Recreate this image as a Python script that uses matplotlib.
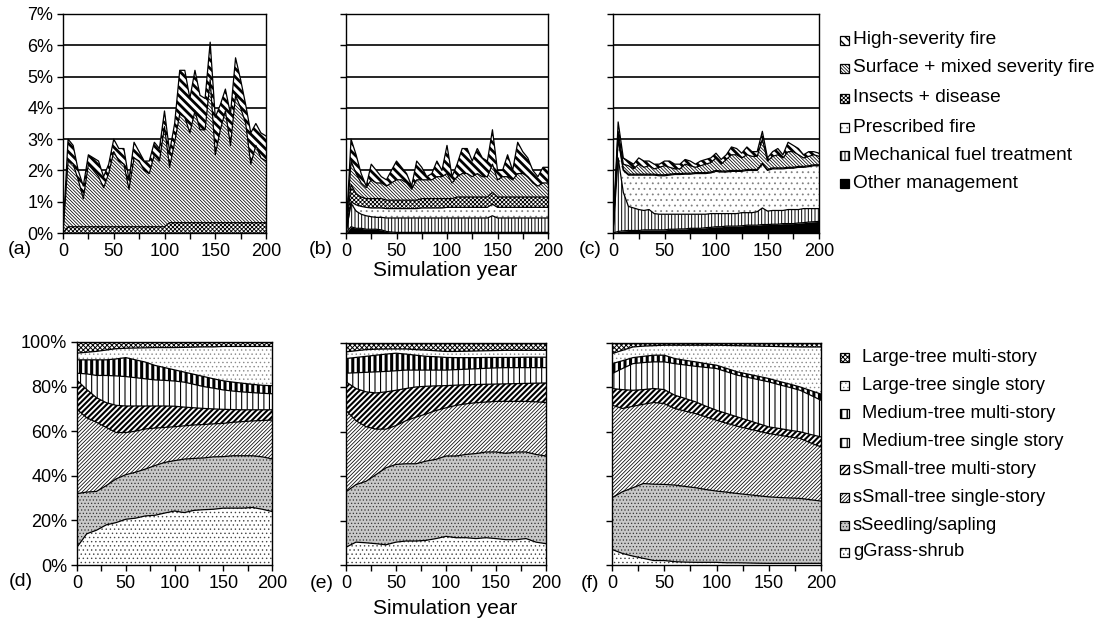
import numpy as np
import matplotlib
matplotlib.use("Agg")
import matplotlib.pyplot as plt
from matplotlib.patches import Rectangle

plt.rcParams['font.family'] = ['Liberation Sans', 'DejaVu Sans']

# ---------------- data ----------------
years5 = list(range(0, 201, 5))
years10 = list(range(0, 201, 10))
xtick_pos = list(range(0, 201, 25))
xtick_labels = ['0', '', '50', '', '100', '', '150', '', '200']
pct_ticks_top = [0, 1, 2, 3, 4, 5, 6, 7]
pct_ticks_bot = [0, 20, 40, 60, 80, 100]

dist_names = ['Other management', 'Mechanical fuel treatment', 'Prescribed fire',
              'Insects + disease', 'Surface + mixed severity fire', 'High-severity fire']
struct_names = ['gGrass-shrub', 'sSeedling/sapling', 'sSmall-tree single-story',
                'sSmall-tree multi-story', 'Medium-tree single story',
                'Medium-tree multi-story', 'Large-tree single story', 'Large-tree multi-story']

# Panel (a): cumulative tops (% per year)
a_other_top = [0] * 41
a_mech_top = [0] * 41
a_presc_top = [0] * 41
a_insects_top = [0, 0.2, 0.2, 0.2, 0.2, 0.2, 0.2, 0.2, 0.2, 0.2, 0.2, 0.2, 0.2, 0.2, 0.2, 0.2, 0.2, 0.2,
                 0.2, 0.2, 0.2, 0.33, 0.33, 0.33, 0.33, 0.33, 0.33, 0.33, 0.33, 0.33, 0.33, 0.33, 0.33,
                 0.33, 0.33, 0.33, 0.33, 0.33, 0.33, 0.33, 0.33]
a_surface_top = [0, 2.3, 2.2, 1.7, 1.1, 2.2, 2.0, 1.8, 1.45, 1.9, 2.6, 2.3, 2.2, 1.4, 2.4, 2.3, 2.0, 1.9,
                 2.5, 2.3, 3.4, 2.1, 2.9, 3.8, 3.7, 3.2, 3.9, 3.3, 3.3, 4.9, 2.5, 3.3, 3.9, 2.8, 4.4,
                 4.0, 3.5, 2.2, 2.8, 2.4, 2.3]
a_high_top = [0, 3.0, 2.8, 2.0, 1.5, 2.5, 2.4, 2.3, 1.8, 2.2, 3.0, 2.7, 2.7, 1.7, 2.9, 2.6, 2.3, 2.3,
              2.9, 2.7, 3.9, 2.6, 3.5, 5.2, 5.2, 4.3, 5.2, 4.4, 4.3, 6.1, 3.7, 4.1, 4.6, 3.8, 5.6,
              4.9, 4.1, 3.2, 3.5, 3.2, 3.1]

# Panel (b)
b_other_top = [0, 0.2, 0.15, 0.15, 0.12, 0.12, 0.12, 0.1, 0.05, 0.03] + [0.02] * 31
b_mech_top = [0, 0.95, 0.7, 0.6, 0.55, 0.52, 0.5, 0.5, 0.48, 0.48, 0.48, 0.48, 0.48, 0.48, 0.48, 0.48,
              0.48, 0.48, 0.48, 0.48, 0.48, 0.48, 0.48, 0.48, 0.48, 0.48, 0.48, 0.48, 0.48, 0.55, 0.48,
              0.48, 0.48, 0.48, 0.48, 0.48, 0.48, 0.48, 0.48, 0.48, 0.48]
b_presc_top = [0, 1.0, 0.9, 0.85, 0.82, 0.8, 0.8, 0.8, 0.78, 0.78, 0.78, 0.78, 0.78, 0.78, 0.78, 0.8,
               0.8, 0.8, 0.8, 0.8, 0.82, 0.82, 0.82, 0.82, 0.82, 0.82, 0.82, 0.82, 0.82, 0.92, 0.82,
               0.82, 0.82, 0.82, 0.82, 0.82, 0.82, 0.82, 0.82, 0.82, 0.82]
b_insects_top = [0, 1.55, 1.25, 1.15, 1.1, 1.1, 1.1, 1.1, 1.05, 1.05, 1.05, 1.05, 1.05, 1.05, 1.05,
                 1.1, 1.1, 1.1, 1.1, 1.1, 1.1, 1.1, 1.15, 1.15, 1.15, 1.15, 1.15, 1.15, 1.15, 1.3,
                 1.15, 1.15, 1.15, 1.15, 1.15, 1.15, 1.15, 1.15, 1.15, 1.15, 1.15]
b_surface_top = [0, 2.3, 1.9, 1.6, 1.45, 1.7, 1.6, 1.6, 1.5, 1.6, 1.7, 1.7, 1.6, 1.4, 1.7, 1.7, 1.7,
                 1.7, 1.8, 1.8, 1.9, 1.6, 1.8, 1.9, 1.9, 1.8, 1.9, 1.8, 1.8, 2.2, 1.7, 1.8, 1.8, 1.7,
                 1.9, 1.9, 1.8, 1.6, 1.5, 1.6, 1.6]
b_high_top = [0, 3.0, 2.5, 1.9, 1.5, 2.2, 2.0, 1.8, 1.7, 2.0, 2.3, 2.1, 1.9, 1.5, 2.3, 2.1, 1.8, 1.9,
              2.3, 2.0, 2.8, 1.8, 2.2, 2.7, 2.7, 2.3, 2.7, 2.4, 2.3, 3.3, 2.0, 2.0, 2.5, 2.0, 2.9,
              2.6, 2.4, 2.0, 1.8, 2.1, 2.1]

# Panel (c)
c_other_top = [0, 0.05, 0.07, 0.08, 0.08, 0.08, 0.1, 0.1, 0.1, 0.1, 0.1, 0.12, 0.12, 0.13, 0.13,
               0.15, 0.15, 0.15, 0.17, 0.18, 0.2, 0.2, 0.22, 0.22, 0.22, 0.23, 0.25, 0.25, 0.25,
               0.27, 0.27, 0.28, 0.28, 0.3, 0.3, 0.3, 0.32, 0.33, 0.35, 0.36, 0.37]
c_mech_top = [0, 2.4, 1.3, 0.85, 0.8, 0.75, 0.72, 0.75, 0.62, 0.6, 0.6, 0.6, 0.6, 0.6, 0.6, 0.6, 0.6,
              0.6, 0.6, 0.62, 0.62, 0.62, 0.62, 0.62, 0.62, 0.65, 0.65, 0.65, 0.68, 0.8, 0.7, 0.72,
              0.72, 0.72, 0.75, 0.75, 0.75, 0.78, 0.78, 0.78, 0.78]
c_presc_top = [0, 3.0, 2.0, 1.85, 1.85, 1.85, 1.85, 1.85, 1.85, 1.83, 1.83, 1.85, 1.87, 1.87, 1.88,
               1.88, 1.9, 1.9, 1.9, 1.92, 1.97, 1.95, 1.95, 1.97, 1.97, 1.97, 2.0, 2.0, 2.0, 2.2,
               2.0, 2.05, 2.05, 2.05, 2.07, 2.07, 2.1, 2.1, 2.12, 2.15, 2.15]
c_insects_top = [0, 3.05, 2.03, 1.88, 1.88, 1.88, 1.88, 1.88, 1.88, 1.86, 1.86, 1.88, 1.9, 1.9, 1.91,
                 1.91, 1.93, 1.93, 1.93, 1.95, 2.0, 1.98, 1.98, 2.0, 2.0, 2.0, 2.03, 2.03, 2.03,
                 2.23, 2.03, 2.08, 2.08, 2.08, 2.1, 2.1, 2.13, 2.13, 2.15, 2.18, 2.18]
c_surface_top = [0, 3.25, 2.2, 2.15, 2.05, 2.2, 2.1, 2.15, 2.05, 2.1, 2.15, 2.1, 2.05, 2.05, 2.2, 2.15,
                 2.1, 2.15, 2.2, 2.25, 2.4, 2.2, 2.35, 2.5, 2.5, 2.4, 2.5, 2.45, 2.45, 3.0, 2.3,
                 2.45, 2.5, 2.4, 2.6, 2.6, 2.5, 2.4, 2.45, 2.5, 2.45]
c_high_top = [0, 3.55, 2.4, 2.3, 2.2, 2.4, 2.3, 2.3, 2.2, 2.2, 2.3, 2.3, 2.2, 2.2, 2.35, 2.3, 2.2, 2.3,
              2.35, 2.4, 2.55, 2.35, 2.5, 2.75, 2.7, 2.55, 2.75, 2.6, 2.6, 3.25, 2.4, 2.6, 2.7, 2.5,
              2.9, 2.8, 2.7, 2.5, 2.6, 2.6, 2.55]

# Panel (d): cumulative tops (% of landscape)
d_grass_top = [8, 14, 15.6, 18, 19, 20.5, 21, 22, 22.3, 23.3, 24.2, 23.5, 24.5, 24.8, 25, 25.5, 25.5, 25.5, 25.8, 25, 24]
d_seed_top = [32, 32.7, 33, 35.6, 38.6, 40.5, 41.6, 43, 44.6, 46, 46.8, 47.5, 47.8, 48, 48.5, 48.6, 49, 49, 49, 48.5, 47.6]
d_small1_top = [69.8, 66, 64, 61.7, 59.4, 59.4, 60, 61, 61.4, 61.7, 62, 62.4, 62.8, 63, 63.3, 63.5, 64, 64.3, 64.6, 64.8, 65]
d_small2_top = [82.8, 78.7, 75, 72.8, 71.6, 71.3, 71.3, 71.3, 71.3, 71.3, 71.2, 70.8, 70.5, 70.2, 70, 69.8, 69.7, 69.6, 69.6, 69.6, 69.6]
d_med1_top = [86, 85.7, 85, 85, 84.8, 84.5, 84, 83.5, 83, 82.8, 82.5, 82, 81, 80, 79.3, 78.5, 78, 77.6, 77.3, 77, 76.8]
d_med2_top = [92, 92, 92, 92, 92.4, 93, 92, 91, 89.5, 88.5, 87.5, 86.5, 85.5, 84.5, 83.5, 82.6, 82, 81.5, 81, 80.6, 80.4]
d_large1_top = [95, 95.4, 95.8, 96.4, 97, 97.2, 97.3, 97.4, 97.5, 97.5, 97.5, 97.6, 97.7, 97.8, 97.8, 98, 98, 98, 98, 98, 98]

# Panel (e)
e_grass_top = [8, 10.3, 10, 9.6, 9.1, 10.3, 10.8, 10.8, 11.1, 11.9, 12.9, 12.3, 12.3, 11.9, 12.3, 11.9, 11.4, 11.4, 11.9, 10.3, 9.6]
e_seed_top = [33, 36.2, 37.7, 40.7, 43.8, 45.3, 45.6, 45.6, 46.8, 47.6, 49.1, 49.1, 49.8, 50.2, 50.9, 50.9, 50.3, 50.9, 50.9, 49.8, 49.1]
e_small1_top = [69.6, 65, 62.3, 61.2, 61.2, 62.8, 65, 66.6, 68, 69.6, 70.8, 71.9, 72.6, 73.1, 73.4, 73.7, 73.7, 73.7, 73.7, 73.5, 73.2]
e_small2_top = [82.5, 79.5, 78, 77.5, 78, 78.7, 79.5, 80.2, 80.5, 80.7, 80.8, 81, 81.2, 81.3, 81.4, 81.5, 81.6, 81.7, 81.8, 81.9, 82]
e_med1_top = [86.4, 86.6, 86.8, 87, 87.2, 87.5, 87.8, 87.8, 87.8, 87.8, 87.8, 88, 88.2, 88.4, 88.6, 88.8, 88.9, 88.9, 88.9, 88.9, 88.9]
e_med2_top = [93, 93.5, 94, 94.5, 95, 95.4, 95, 94.5, 94, 93.8, 93.5, 93.4, 93.4, 93.4, 93.5, 93.5, 93.5, 93.5, 93.6, 93.6, 93.6]
e_large1_top = [96, 96.5, 97, 97.2, 97.3, 97.3, 97.3, 97, 96.8, 96.5, 96.2, 96.2, 96.3, 96.4, 96.5, 96.6, 96.7, 96.7, 96.7, 96.7, 96.7]

# Panel (f)
f_grass_top = [7, 5.2, 4, 3, 2, 2, 1.5, 1.3, 1.2, 1.2, 1.2, 1, 1, 0.9, 0.8, 0.75, 0.75, 0.75, 0.75, 0.75, 0.75]
f_seed_top = [30.3, 33, 34.8, 36.7, 36.4, 36.3, 36, 35.4, 34.8, 34, 33.3, 32.8, 32.2, 31.7, 31.2, 30.7, 30.4, 30.2, 30, 29.4, 28.8]
f_small1_top = [72, 70.5, 71.5, 72.4, 73.2, 72.7, 70.5, 69.3, 68.2, 66.7, 65.2, 63.8, 62.5, 61.4, 60.3, 59.2, 58.5, 57.7, 57, 55, 53.2]
f_small2_top = [79.5, 79, 78.7, 79, 79.5, 79, 76.5, 75, 73.5, 71.5, 69.7, 68.2, 66.7, 65.2, 63.7, 62.2, 61.5, 60.7, 60, 58.8, 57.7]
f_med1_top = [86.2, 88.5, 90.7, 91.2, 91.5, 91.5, 90.7, 90.1, 89.5, 89, 88.5, 87, 85.5, 84.5, 83.5, 82.5, 81.2, 80, 78.7, 76.5, 74.2]
f_med2_top = [90.7, 92, 93.4, 94, 94.5, 94.5, 93, 92.2, 91.5, 90.7, 90, 88.5, 87, 86, 85, 84, 82.7, 81.5, 80.2, 78.6, 77]
f_large1_top = [95.2, 96.7, 98.2, 98.6, 98.8, 99, 99, 99, 99, 99, 99, 98.9, 98.8, 98.7, 98.6, 98.5, 98.4, 98.3, 98.2, 98.2, 98.2]
full_top = [100] * 21

# ---------------- styles ----------------
# (facecolor, hatch, hatchcolor, hatch linewidth)
dist_styles = [
    ('black', None, 'black', 1.0),
    ('white', '|||||', 'black', 0.7),
    ('white', '...', '#808080', 0.6),
    ('white', 'x' * 8, 'black', 0.6),
    ('white', '\\' * 10, 'black', 0.55),
    ('white', '\\' * 4, 'black', 2.0),
]
struct_styles = [
    ('white', '....', '#444444', 0.5),
    ('#c8c8c8', '.....', '#333333', 0.5),
    ('white', '/' * 9, 'black', 0.55),
    ('white', '/' * 6, 'black', 1.5),
    ('white', '|||', 'black', 0.8),
    ('white', '|||', 'black', 2.2),
    ('white', '....', '#8a8a8a', 0.5),
    ('white', 'x' * 7, 'black', 0.7),
]


def hatch_lw(artist, lw):
    if hasattr(artist, 'set_hatch_linewidth'):
        artist.set_hatch_linewidth(lw)


def stacked(ax, x, tops, styles):
    lower = np.zeros(len(x))
    for top, (fc, hatch, hc, lw) in zip(tops, styles):
        top = np.asarray(top, dtype=float)
        with plt.rc_context({'hatch.linewidth': lw}):
            coll = ax.fill_between(x, lower, top, facecolor=fc, hatch=hatch,
                                   edgecolor=hc, linewidth=0, zorder=2)
        hatch_lw(coll, lw)
        ax.plot(x, top, color='black', lw=0.9, zorder=3)
        lower = top


def style_axes(ax, ymax, yticks, ylabels):
    ax.set_xlim(0, 200)
    ax.set_ylim(0, ymax)
    ax.set_xticks(xtick_pos)
    ax.set_xticklabels(xtick_labels)
    ax.set_yticks(yticks)
    if ylabels:
        ax.set_yticklabels(ylabels)
    else:
        ax.set_yticklabels([])
    ax.tick_params(direction='out', length=4, width=1, labelsize=13, pad=3, colors='black')
    for s in ax.spines.values():
        s.set_color('black')
        s.set_linewidth(1.0)
        s.set_zorder(5)


fig = plt.figure(figsize=(11.01, 6.30), dpi=100)
W, H = 1101, 630


def rect(l, r, t, b):
    return [l / W, 1 - b / H, (r - l) / W, (b - t) / H]


ax_a = fig.add_axes(rect(63, 266, 14, 233))
ax_b = fig.add_axes(rect(346, 548, 14, 233))
ax_c = fig.add_axes(rect(613, 819, 14, 233))
ax_d = fig.add_axes(rect(77, 272, 342, 565))
ax_e = fig.add_axes(rect(346, 546, 343, 565))
ax_f = fig.add_axes(rect(612, 821, 343, 565))

top_sets = [
    (ax_a, [a_other_top, a_mech_top, a_presc_top, a_insects_top, a_surface_top, a_high_top]),
    (ax_b, [b_other_top, b_mech_top, b_presc_top, b_insects_top, b_surface_top, b_high_top]),
    (ax_c, [c_other_top, c_mech_top, c_presc_top, c_insects_top, c_surface_top, c_high_top]),
]
for i, (ax, tops) in enumerate(top_sets):
    for g in pct_ticks_top[1:]:
        ax.axhline(g, color='black', lw=1.2, zorder=1)
    stacked(ax, years5, tops, dist_styles)
    style_axes(ax, 7, pct_ticks_top, ['%d%%' % v for v in pct_ticks_top] if i == 0 else None)

bot_sets = [
    (ax_d, [d_grass_top, d_seed_top, d_small1_top, d_small2_top, d_med1_top, d_med2_top, d_large1_top, full_top]),
    (ax_e, [e_grass_top, e_seed_top, e_small1_top, e_small2_top, e_med1_top, e_med2_top, e_large1_top, full_top]),
    (ax_f, [f_grass_top, f_seed_top, f_small1_top, f_small2_top, f_med1_top, f_med2_top, f_large1_top, full_top]),
]
for i, (ax, tops) in enumerate(bot_sets):
    stacked(ax, years10, tops, struct_styles)
    style_axes(ax, 100, pct_ticks_bot, ['%d%%' % v for v in pct_ticks_bot] if i == 0 else None)

# overlay for panel letters, axis titles, legends (pixel coordinates)
ov = fig.add_axes([0, 0, 1, 1], zorder=10)
ov.set_xlim(0, W)
ov.set_ylim(H, 0)
ov.axis('off')

for lab, (x, y) in zip(['(a)', '(b)', '(c)', '(d)', '(e)', '(f)'],
                       [(20, 249), (321, 250), (590, 250), (21, 581), (322, 584), (590, 584)]):
    ov.text(x, y, lab, fontsize=14, ha='center', va='center')

ov.text(445, 270, 'Simulation year', fontsize=15, ha='center', va='center')
ov.text(445, 608, 'Simulation year', fontsize=15, ha='center', va='center')


def legend_marker(x, y, style):
    fc, hatch, hc, lw = style
    with plt.rc_context({'hatch.linewidth': min(lw, 1.0)}):
        p = Rectangle((x, y - 4.5), 9, 9, facecolor=fc, hatch=hatch, edgecolor=hc, lw=0)
    hatch_lw(p, min(lw, 1.0))
    ov.add_patch(p)
    ov.add_patch(Rectangle((x, y - 4.5), 9, 9, facecolor='none', edgecolor='black', lw=0.9))


top_rows = [40, 68, 98, 127, 155, 183]
for name, style, y in zip(dist_names[::-1], dist_styles[::-1], top_rows):
    legend_marker(840, y, style)
    ov.text(853, y, name, fontsize=13.8, ha='left', va='center')

bot_rows = [357, 385, 413, 442, 469, 497, 525, 552]
for name, style, y in zip(struct_names[::-1], struct_styles[::-1], bot_rows):
    legend_marker(840, y, style)
    if name[0].islower():
        ov.text(853, y, name, fontsize=13.2, ha='left', va='center')
    else:
        ov.text(862, y, name, fontsize=13.2, ha='left', va='center')

fig.savefig('out.png', dpi=100)
